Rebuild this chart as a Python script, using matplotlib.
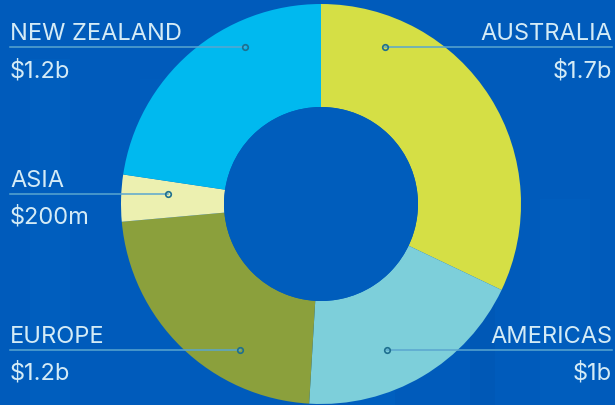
import matplotlib.pyplot as plt
from matplotlib.patches import Rectangle

# revenue by region, in billions
regions = ["AUSTRALIA", "AMERICAS", "EUROPE", "ASIA", "NEW ZEALAND"]
values = [1.7, 1.0, 1.2, 0.2, 1.2]
value_labels = ["$1.7b", "$1b", "$1.2b", "$200m", "$1.2b"]
colors = ["#d5df45", "#7dcfda", "#8ba03c", "#ecf0b0", "#00b9ef"]

W, H = 615, 406
BG = "#005bbb"
TXT = "#d4ebf6"
LINE = "#5aa6cf"

# label layout: (line y, marker x, side) in pixel coords, y from top
layout = {
    "AUSTRALIA": (48, 385, "right"),
    "AMERICAS": (351, 387, "right"),
    "EUROPE": (351, 240, "left"),
    "ASIA": (195, 168, "left"),
    "NEW ZEALAND": (48, 245, "left"),
}

fig = plt.figure(figsize=(W / 100, H / 100), dpi=100)
fig.patch.set_facecolor(BG)
ax = fig.add_axes([0, 0, 1, 1])
ax.set_facecolor(BG)

def Y(y):
    return H - y

# faint skyline blocks in the background
for x0, y0, w, h, c in [(30, 60, 40, 346, "#005ebe"), (290, 110, 60, 296, "#0059b8"),
                         (350, 130, 45, 276, "#005fbf"), (470, 175, 25, 231, "#0058b6"),
                         (540, 200, 50, 206, "#005dbd"), (140, 80, 50, 326, "#005cbc")]:
    ax.add_patch(Rectangle((x0, Y(y0) - h), w, h, color=c, lw=0, zorder=0))

ax.pie(values, colors=colors, startangle=90, counterclock=False,
       center=(321, Y(205)), radius=200, frame=True,
       wedgeprops=dict(width=103, linewidth=0))
ax.add_patch(plt.Circle((321, Y(205)), 97, color="#005dbc", lw=0, zorder=3))
ax.set_xlim(0, W)
ax.set_ylim(0, H)
ax.set_aspect("equal")
ax.axis("off")

font = "Inter"
for name, val in zip(regions, value_labels):
    ly, mx, side = layout[name]
    if side == "left":
        x0, x1, tx, ha = 10, mx, 10, "left"
    else:
        x0, x1, tx, ha = mx, 612, 612, "right"
    ax.plot([x0, x1], [Y(ly), Y(ly)], color=LINE, lw=1.1, zorder=4)
    ax.plot(mx, Y(ly), marker="o", ms=4, mfc="none", mec="#1e6f8f", mew=1.2, zorder=5)
    ax.text(tx, Y(ly - 8), name, color=TXT, fontsize=17, family=font,
            ha=ha, va="baseline", zorder=6)
    ax.text(tx, Y(ly + 29), val, color=TXT, fontsize=17, family=font,
            ha=ha, va="baseline", zorder=6)

fig.savefig("out.png", dpi=100, facecolor=BG)
